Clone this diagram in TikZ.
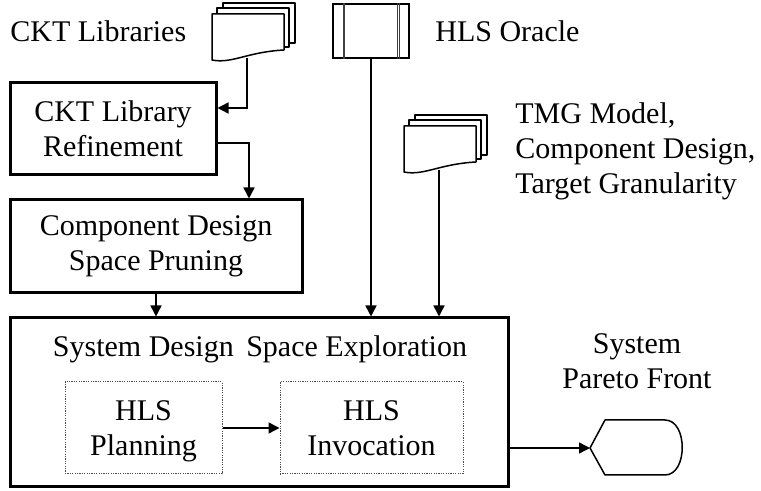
\documentclass[tikz,border=0pt]{standalone}
\usepackage{fontspec}
\setmainfont{Liberation Serif}
\usepackage{tikz}
\usetikzlibrary{arrows.meta,calc,positioning}

\tikzset{
  block/.style={draw=black,line width=1.5pt,align=center,inner sep=0pt},
  subblock/.style={draw=black!70,line width=0.5pt,dash pattern=on 0.6pt off 0.6pt,align=center,inner sep=0pt,text depth=0pt},
  txt/.style={inner sep=0pt,align=left},
  sheet/.style={draw=black,line width=0.75pt,fill=white,line join=round},
  flow/.style={-{Triangle[length=5.5pt,width=5.5pt]},line width=0.75pt}
}

% stack of sheets, #1 = top left corner of the front sheet, #2 = name of its bottom point
\newcommand{\docstack}[2]{%
  \begin{scope}[shift={#1}]
    \draw[sheet] (11,-6) -- (11,-11) -- (83,-11) -- (83,29) -- (77,29);
    \draw[sheet] (5,0) -- (5,-6) -- (77,-6) -- (77,33) -- (72,33);
    \draw[sheet] (0,0) -- (72,0) -- (72,36) .. controls (35,38) and (20,50) .. (0,46) -- cycle;
    \coordinate (#2) at (35,44);
  \end{scope}}

\begin{document}
\begin{tikzpicture}[x=0.5pt,y=-0.5pt,font=\fontsize{15}{17.5}\selectfont]
  \useasboundingbox (0,0) rectangle (761,491);

  % inputs
  \node[txt,anchor=base west] (libtxt) at (10,42) {CKT Libraries};
  \docstack{(212,14)}{libs}
  \node[txt,anchor=base west] (oracletxt) at (435,42) {HLS Oracle};
  \node[draw,line width=0.75pt,minimum width=38pt,minimum height=27pt,inner sep=0pt] (oracle) at (371,31) {};
  \foreach \dx in {-28,-26.5,26.5,28}
    \draw[black!75,line width=0.5pt] ([xshift=\dx*0.5pt]oracle.north) -- ([xshift=\dx*0.5pt]oracle.south);
  \docstack{(404,126)}{tmg}
  \node[txt,anchor=north west] (tmgtxt) at (515,102) {TMG Model,\\Component Design,\\Target Granularity};

  % flow
  \node[block,minimum width=103pt,minimum height=46pt] (refine) at (113,129) {CKT Library\\Refinement};
  \node[block,minimum width=146pt,minimum height=46.5pt] (prune) at (156,246.5) {Component Design\\Space Pruning};
  \node[block,minimum width=249pt,minimum height=84.5pt] (sdse) at (259,402.5) {};
  \node[txt,anchor=base] (sdsetxt) at (260,357) {System Design\ \,Space Exploration};
  \node[subblock,minimum width=78.5pt,minimum height=46pt] (plan) at (143.5,428) {HLS\\Planning};
  \node[subblock,minimum width=91.5pt,minimum height=46pt] (invoke) at (371.5,428) {HLS\\Invocation};

  % output
  \node[txt,align=center] (paretotxt) at (637,361) {System\\Pareto Front};
  \coordinate (pareto) at (590,448);
  \draw[sheet] (pareto) -- (605,420) -- (665,420) .. controls (688,420) and (688,475) .. (665,475) -- (605,475) -- cycle;

  % connectors
  \draw[flow] (libs) |- ([yshift=10.5pt]refine.east);
  \draw[flow] ([yshift=-7pt]refine.east) -| ([xshift=46.5pt]prune.north);
  \draw[flow] (prune.south) -- (prune.south |- sdse.north);
  \draw[flow] (oracle.south) -- (oracle.south |- sdse.north);
  \draw[flow] (tmg) -- (tmg |- sdse.north);
  \draw[flow] (plan) -- (invoke);
  \draw[flow] (sdse.east |- pareto) -- (pareto);
\end{tikzpicture}
\end{document}
